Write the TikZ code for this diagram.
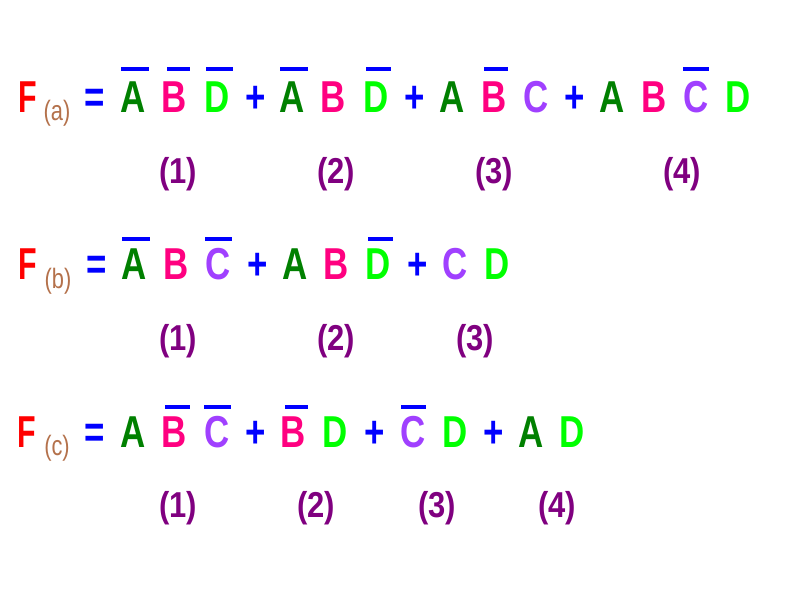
\documentclass[tikz,border=0pt]{standalone}
\usepackage{fontspec}
\setmainfont{Liberation Sans}
\usepackage{graphicx}
\definecolor{cF}{HTML}{FF0000}
\definecolor{cSub}{HTML}{B4714B}
\definecolor{cA}{HTML}{008000}
\definecolor{cB}{HTML}{FF0080}
\definecolor{cC}{HTML}{A040FF}
\definecolor{cD}{HTML}{00FF00}
\definecolor{cOp}{HTML}{0000FF}
\definecolor{cNum}{HTML}{800080}
\newcommand{\sx}[1]{\scalebox{0.78}[1]{#1}}
\newcommand{\sxF}[1]{\scalebox{0.68}[1]{#1}}
\newcommand{\sxN}[1]{\scalebox{0.86}[1]{#1}}
\tikzset{
  lt/.style={inner sep=0pt, anchor=base, font=\fontsize{44.7}{48}\selectfont\bfseries},
  sub/.style={inner sep=0pt, anchor=base, text=cSub, font=\fontsize{28}{30}\selectfont},
  num/.style={inner sep=0pt, anchor=base, text=cNum, font=\fontsize{36}{38}\selectfont\bfseries},
  bar/.style={fill=cOp}
}
\begin{document}
\begin{tikzpicture}[x=1pt,y=-1pt]
\fill[white] (0,0) rectangle (800,600);
\useasboundingbox (0,0) rectangle (800,600);
% ---------- Row a ----------
\node[lt,text=cF] (aF) at (27.5,112) {\sxF{F}};
\node[sub] (aS) at (57,120) {\sx{(a)}};
\node[lt,text=cOp] (aEq) at (95,112) {\sx{=}};
\node[lt,text=cA] (a1A) at (133,112) {\sx{A}};
\node[lt,text=cB] (a1B) at (174,112) {\sx{B}};
\node[lt,text=cD] (a1D) at (217,112) {\sx{D}};
\node[lt,text=cOp] (aP1) at (256,112) {\sx{+}};
\node[lt,text=cA] (a2A) at (292,112) {\sx{A}};
\node[lt,text=cB] (a2B) at (333,112) {\sx{B}};
\node[lt,text=cD] (a2D) at (376,112) {\sx{D}};
\node[lt,text=cOp] (aP2) at (415,112) {\sx{+}};
\node[lt,text=cA] (a3A) at (452,112) {\sx{A}};
\node[lt,text=cB] (a3B) at (494,112) {\sx{B}};
\node[lt,text=cC] (a3C) at (536,112) {\sx{C}};
\node[lt,text=cOp] (aP3) at (575,112) {\sx{+}};
\node[lt,text=cA] (a4A) at (612,112) {\sx{A}};
\node[lt,text=cB] (a4B) at (654,112) {\sx{B}};
\node[lt,text=cC] (a4C) at (696,112) {\sx{C}};
\node[lt,text=cD] (a4D) at (738,112) {\sx{D}};
\fill[bar] (121,67) rectangle (149,71);
\fill[bar] (167,67) rectangle (190,71);
\fill[bar] (206,67) rectangle (233,71);
\fill[bar] (280,67) rectangle (308,71);
\fill[bar] (366,67) rectangle (391,71);
\fill[bar] (484,67) rectangle (508,71);
\fill[bar] (683,67) rectangle (709,71);
\node[num] (aN1) at (178,183) {\sxN{(1)}};
\node[num] (aN2) at (336,183) {\sxN{(2)}};
\node[num] (aN3) at (494,183) {\sxN{(3)}};
\node[num] (aN4) at (682,183) {\sxN{(4)}};
% ---------- Row b ----------
\node[lt,text=cF] (bF) at (27.5,279) {\sxF{F}};
\node[sub] (bS) at (58,288) {\sx{(b)}};
\node[lt,text=cOp] (bEq) at (97,279) {\sx{=}};
\node[lt,text=cA] (b1A) at (134,279) {\sx{A}};
\node[lt,text=cB] (b1B) at (176,279) {\sx{B}};
\node[lt,text=cC] (b1C) at (218,279) {\sx{C}};
\node[lt,text=cOp] (bP1) at (258,279) {\sx{+}};
\node[lt,text=cA] (b2A) at (295,279) {\sx{A}};
\node[lt,text=cB] (b2B) at (336,279) {\sx{B}};
\node[lt,text=cD] (b2D) at (378,279) {\sx{D}};
\node[lt,text=cOp] (bP2) at (418,279) {\sx{+}};
\node[lt,text=cC] (b3C) at (455,279) {\sx{C}};
\node[lt,text=cD] (b3D) at (497,279) {\sx{D}};
\fill[bar] (122,237) rectangle (150,241);
\fill[bar] (205,237) rectangle (232,241);
\fill[bar] (368,237) rectangle (393,241);
\node[num] (bN1) at (178,350) {\sxN{(1)}};
\node[num] (bN2) at (336,350) {\sxN{(2)}};
\node[num] (bN3) at (475,350) {\sxN{(3)}};
% ---------- Row c ----------
\node[lt,text=cF] (cF) at (27,447) {\sxF{F}};
\node[sub] (cS) at (57,455) {\sx{(c)}};
\node[lt,text=cOp] (cEq) at (95,447) {\sx{=}};
\node[lt,text=cA] (c1A) at (133,447) {\sx{A}};
\node[lt,text=cB] (c1B) at (174,447) {\sx{B}};
\node[lt,text=cC] (c1C) at (217,447) {\sx{C}};
\node[lt,text=cOp] (cP1) at (256,447) {\sx{+}};
\node[lt,text=cB] (c2B) at (293,447) {\sx{B}};
\node[lt,text=cD] (c2D) at (335,447) {\sx{D}};
\node[lt,text=cOp] (cP2) at (375,447) {\sx{+}};
\node[lt,text=cC] (c3C) at (413,447) {\sx{C}};
\node[lt,text=cD] (c3D) at (455,447) {\sx{D}};
\node[lt,text=cOp] (cP3) at (494,447) {\sx{+}};
\node[lt,text=cA] (c4A) at (531,447) {\sx{A}};
\node[lt,text=cD] (c4D) at (572,447) {\sx{D}};
\fill[bar] (165,405) rectangle (190,409);
\fill[bar] (204,405) rectangle (231,409);
\fill[bar] (285,405) rectangle (308,409);
\fill[bar] (401,405) rectangle (426,409);
\node[num] (cN1) at (178,517) {\sxN{(1)}};
\node[num] (cN2) at (316,517) {\sxN{(2)}};
\node[num] (cN3) at (437,517) {\sxN{(3)}};
\node[num] (cN4) at (557,517) {\sxN{(4)}};
\end{tikzpicture}
\end{document}
